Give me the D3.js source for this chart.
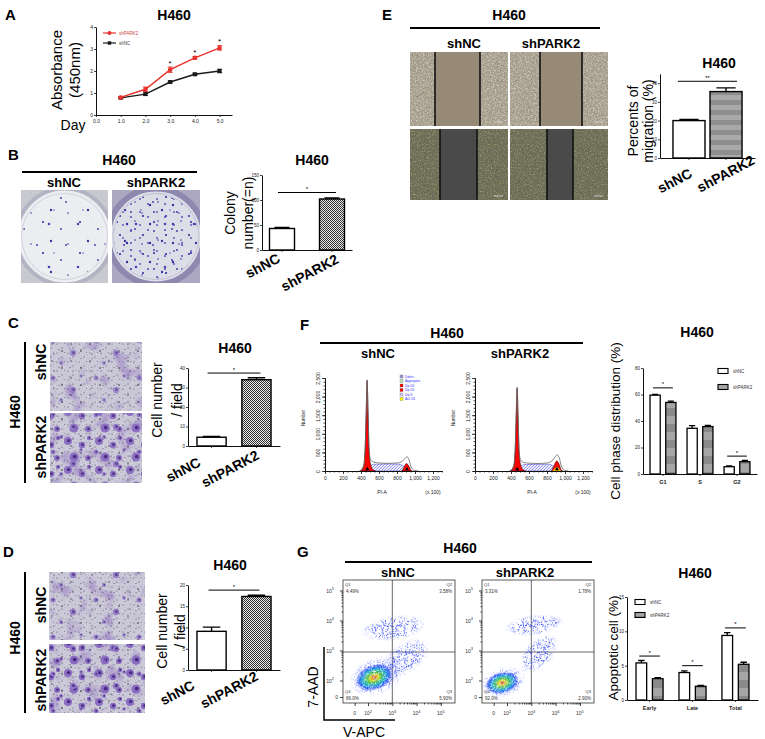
<!DOCTYPE html>
<html lang="en">
<head>
<meta charset="UTF-8">
<title>H460 shPARK2 panels</title>
<script src="https://cdn.jsdelivr.net/npm/d3@7"></script>
<style>
  body { margin: 0; background: #fff; }
  svg { display: block; }
</style>
</head>
<body>
<div id="fig"></div>
<script>
// ---- values ----
const days = [1, 2, 3, 4, 5];
const absPARK2 = [0.80, 1.17, 2.06, 2.60, 3.05];
const absPARK2Err = [0.04, 0.10, 0.12, 0.06, 0.10];
const absNC = [0.78, 0.95, 1.50, 1.85, 2.00];
const absNCErr = [0.03, 0.05, 0.04, 0.05, 0.08];
const absSigDays = [3, 4, 5];

const groups = ["shNC", "shPARK2"];
const colonyMean = [43, 102];
const colonyErr = [2, 2];
const invasionC = [4.5, 34];
const invasionCErr = [0.4, 1.0];
const invasionD = [9.1, 17.3];
const invasionDErr = [1.0, 0.3];
const migration = [20, 35.5];
const migrationErr = [0.6, 2.0];

const phases = ["G1", "S", "G2"];
const phaseNC = [59.5, 34.5, 5.5];
const phaseNCErr = [0.6, 2.0, 0.7];
const phasePARK2 = [54.0, 35.8, 9.3];
const phasePARK2Err = [1.0, 0.8, 0.9];

const apopCats = ["Early", "Late", "Total"];
const apopNC = [5.4, 4.0, 9.4];
const apopNCErr = [0.35, 0.25, 0.4];
const apopPARK2 = [3.1, 2.0, 5.2];
const apopPARK2Err = [0.15, 0.12, 0.3];

// quadrant percentages: Q1, Q2, Q3, Q4
const quadNC = ["4.49%", "3.58%", "5.90%", "86.0%"];
const quadPARK2 = ["3.31%", "1.78%", "2.90%", "92.0%"];

// cell cycle histograms: [PI-A (x100), count]
const histNCOutline = [[380,0],[425,60],[445,500],[458,1600],[468,2450],[478,1600],[490,600],[505,320],[540,240],[600,215],[700,205],[800,215],[860,260],[890,340],[910,380],[930,330],[955,120],[990,20],[1040,0]];
const histNCG1 = [[390,0],[430,150],[447,700],[458,1600],[468,2430],[478,1600],[490,550],[505,200],[530,40],[560,0]];
const histNCS = [[460,0],[500,120],[540,180],[700,190],[820,185],[880,120],[930,30],[960,0]];
const histNCG2 = [[855,0],[880,110],[905,200],[930,140],[955,20],[970,0]];
const histPKOutline = [[380,0],[425,50],[445,450],[458,1500],[468,2250],[478,1500],[490,560],[505,300],[540,230],[600,210],[700,200],[800,215],[860,280],[890,380],[912,430],[935,360],[960,130],[995,20],[1040,0]];
const histPKG1 = [[390,0],[430,140],[447,650],[458,1500],[468,2230],[478,1500],[490,520],[505,190],[530,40],[560,0]];
const histPKS = [[460,0],[500,110],[540,170],[700,180],[820,180],[880,120],[930,30],[960,0]];
const histPKG2 = [[850,0],[878,140],[908,270],[935,180],[958,30],[975,0]];
const histPKAn = [[860,0],[885,60],[908,110],[932,70],[955,0]];
const cyclePeaks = [470, 910];
const histLegend = ["Debris", "Aggregates", "Dip G1", "Dip G2", "Dip S", "An1 G1"];

// flow cytometry populations, in decades of V-APC (x) and 7-AAD (y)
const flowNC = [
  { x: 3.05, y: 3.75, rx: 1.35, ry: 0.42, rot: -8, kind: "sparse" },
  { x: 3.55, y: 2.75, rx: 1.10, ry: 0.50, rot: -35, kind: "sparse" },
  { x: 2.35, y: 2.15, rx: 1.15, ry: 0.62, rot: -20, kind: "sparse" },
  { x: 2.25, y: 2.10, rx: 0.80, ry: 0.42, rot: -20, kind: "core" }
];
const flowPARK2 = [
  { x: 3.10, y: 3.85, rx: 1.25, ry: 0.35, rot: -8, kind: "sparse" },
  { x: 3.30, y: 2.90, rx: 1.00, ry: 0.45, rot: -45, kind: "sparse" },
  { x: 1.85, y: 1.95, rx: 0.95, ry: 0.50, rot: -15, kind: "sparse" },
  { x: 1.80, y: 1.92, rx: 0.70, ry: 0.36, rot: -15, kind: "core" }
];
const flowTicks = [["0", 1.45], ["10", 2, "2"], ["10", 3, "3"], ["10", 4, "4"], ["10", 5, "5"]];

// ---- drawing ----
const FONT = "'Liberation Sans', Arial, sans-serif";
const svg = d3.select("#fig").append("svg")
  .attr("width", 765).attr("height", 739)
  .style("font-family", FONT);
const defs = svg.append("defs");

function label(g, str, x, y, o = {}) {
  const t = g.append("text")
    .attr("x", x).attr("y", y)
    .attr("font-size", o.size || 14)
    .attr("font-weight", o.bold ? "bold" : "normal")
    .attr("text-anchor", o.anchor || "middle")
    .attr("fill", o.fill || "#000")
    .text(str);
  if (o.dy) t.attr("dy", o.dy);
  if (o.rot != null) t.attr("transform", `rotate(${o.rot},${x},${y})`);
  return t;
}

function axisStyle(g, fs) {
  g.attr("font-family", FONT).attr("font-size", fs);
  g.select(".domain").attr("stroke", "#111").attr("stroke-width", 1);
  g.selectAll(".tick line").attr("stroke", "#111").attr("stroke-width", 0.8);
  g.selectAll(".tick text").attr("fill", "#222");
}

// bar fill patterns
const chk = defs.append("pattern").attr("id", "checker")
  .attr("width", 2).attr("height", 2).attr("patternUnits", "userSpaceOnUse");
chk.append("rect").attr("width", 2).attr("height", 2).attr("fill", "#e8e8e8");
chk.append("rect").attr("width", 1).attr("height", 1).attr("fill", "#333");
chk.append("rect").attr("x", 1).attr("y", 1).attr("width", 1).attr("height", 1).attr("fill", "#333");

const stripe = defs.append("pattern").attr("id", "stripes")
  .attr("width", 4).attr("height", 10).attr("patternUnits", "userSpaceOnUse");
stripe.append("rect").attr("width", 4).attr("height", 10).attr("fill", "#a9a9a9");
stripe.append("rect").attr("width", 4).attr("height", 5).attr("fill", "#8e8e8e");

const bands = defs.append("pattern").attr("id", "bands")
  .attr("width", 4).attr("height", 16).attr("patternUnits", "userSpaceOnUse");
bands.append("rect").attr("width", 4).attr("height", 16).attr("fill", "#a6a6a6");
bands.append("rect").attr("y", 8).attr("width", 4).attr("height", 8).attr("fill", "#8a8a8a");

const hatch = defs.append("pattern").attr("id", "hatch")
  .attr("width", 3).attr("height", 3).attr("patternUnits", "userSpaceOnUse");
hatch.append("rect").attr("width", 3).attr("height", 3).attr("fill", "#eef0ff");
hatch.append("path").attr("d", "M0,3L3,0M-1,1L1,-1M2,4L4,2").attr("stroke", "#5a5ad8").attr("stroke-width", 0.6);

// photo textures: dot tiles with co-prime sizes so the repeats do not line up
function dotTile(id, w, h, dots, fill, core) {
  const p = defs.append("pattern").attr("id", id)
    .attr("width", w).attr("height", h).attr("patternUnits", "userSpaceOnUse");
  dots.forEach(([x, y, r]) => {
    p.append("circle").attr("cx", x).attr("cy", y).attr("r", r).attr("fill", fill);
    if (core) p.append("circle").attr("cx", x + r * 0.15).attr("cy", y - r * 0.1).attr("r", r * 0.42).attr("fill", core);
  });
}
dotTile("colA", 37, 31, [[6, 5, 1.1], [24, 12, 0.9], [14, 24, 1.2], [31, 27, 0.8]], "#3636a4");
dotTile("colD", 29, 43, [[8, 30, 1.0], [20, 9, 1.3], [25, 38, 0.7]], "#4646b8");
dotTile("colB", 23, 19, [[5, 7, 1.1], [16, 3, 0.9], [12, 15, 1.2], [20, 12, 0.8]], "#3232a0");
dotTile("colC", 17, 13, [[4, 4, 0.9], [12, 9, 1.0]], "#5050b8");
dotTile("pores", 11, 9, [[2, 2, 0.55], [7, 6, 0.6], [9.5, 1.5, 0.45], [4, 7.5, 0.5]], "#2e2840");
dotTile("pores2", 19, 17, [[5, 11, 0.8], [14, 4, 0.7], [16, 14, 0.6]], "#221c30");
dotTile("cellsA", 43, 37, [[10, 8, 2.5], [30, 20, 3.2], [18, 30, 2.0], [38, 6, 1.8]], "#9276c6", "#4b2f86");
dotTile("cellsB", 31, 29, [[6, 6, 4.0], [20, 10, 3.2], [12, 22, 4.5], [26, 23, 3.0], [27, 3, 2.2]], "#8a6cc2", "#46287e");

function speckle(id, o) {
  const f = defs.append("filter").attr("id", id)
    .attr("x", 0).attr("y", 0).attr("width", 1).attr("height", 1)
    .attr("color-interpolation-filters", "sRGB");
  f.append("feTurbulence").attr("type", "fractalNoise")
    .attr("baseFrequency", o.freq).attr("numOctaves", o.oct || 1).attr("seed", o.seed).attr("result", "n");
  const [r, g, b] = o.color;
  f.append("feColorMatrix").attr("in", "n").attr("type", "matrix")
    .attr("values", `0 0 0 0 ${r} 0 0 0 0 ${g} 0 0 0 0 ${b} ${o.gain} 0 0 0 ${o.bias}`).attr("result", "c");
  f.append("feComposite").attr("in", "c").attr("in2", "SourceAlpha").attr("operator", "in");
}
speckle("grainW", { freq: 0.9, oct: 2, seed: 2, color: [1, 1, 1], gain: 2.4, bias: -1.05 });
speckle("grainD", { freq: 0.8, oct: 2, seed: 7, color: [0.1, 0.1, 0.1], gain: -2.4, bias: 0.95 });
speckle("haze", { freq: 0.06, oct: 2, seed: 4, color: [0.55, 0.42, 0.75], gain: 3, bias: -1.6 });
speckle("grainY", { freq: 0.7, oct: 2, seed: 5, color: [0.76, 0.76, 0.46], gain: 2.2, bias: -1.12 });
speckle("grainL", { freq: 0.6, oct: 2, seed: 8, color: [0.85, 0.83, 0.78], gain: 2.4, bias: -1.1 });

function flowMask(id, seed, gain, bias) {
  const f = defs.append("filter").attr("id", id)
    .attr("x", "-10%").attr("y", "-10%").attr("width", "120%").attr("height", "120%")
    .attr("color-interpolation-filters", "sRGB");
  f.append("feTurbulence").attr("type", "fractalNoise").attr("baseFrequency", 1.1)
    .attr("numOctaves", 1).attr("seed", seed).attr("result", "n");
  f.append("feColorMatrix").attr("in", "n").attr("type", "matrix")
    .attr("values", `0 0 0 0 0 0 0 0 0 0 0 0 0 0 0 ${gain} 0 0 0 ${bias}`).attr("result", "m");
  f.append("feComposite").attr("in", "SourceGraphic").attr("in2", "m").attr("operator", "in");
}
flowMask("flowSparse", 3, 9, -4.9);
flowMask("flowCore", 6, 6, -2.0);

const gCore = defs.append("radialGradient").attr("id", "gCore");
[["0%", "#e03018", 1], ["10%", "#f09020", 1], ["22%", "#e8e020", 1], ["40%", "#40c050", 1],
 ["62%", "#20b0d0", 1], ["82%", "#2050f0", 0.9], ["100%", "#2040ff", 0]]
  .forEach(s => gCore.append("stop").attr("offset", s[0]).attr("stop-color", s[1]).attr("stop-opacity", s[2]));
const gSparse = defs.append("radialGradient").attr("id", "gSparse");
[["0%", "#1a30ff", 1], ["65%", "#2a42ff", 0.9], ["100%", "#3a55ff", 0]]
  .forEach(s => gSparse.append("stop").attr("offset", s[0]).attr("stop-color", s[1]).attr("stop-opacity", s[2]));

let clipN = 0;
function clipped(x, y, w, h) {
  const id = "clip" + (clipN++);
  defs.append("clipPath").attr("id", id).append("rect")
    .attr("x", x).attr("y", y).attr("width", w).attr("height", h);
  return svg.append("g").attr("clip-path", `url(#${id})`);
}
function layer(g, x, y, w, h, fill, op = 1) {
  return g.append("rect").attr("x", x).attr("y", y).attr("width", w).attr("height", h)
    .attr("fill", fill).attr("opacity", op);
}

// panel letters
[["A", 5, 20], ["B", 8, 160], ["C", 8, 328], ["D", 3, 557], ["E", 382, 20], ["F", 300, 330], ["G", 297, 557]]
  .forEach(([t, x, y]) => label(svg, t, x, y, { size: 15, bold: true, anchor: "start" }));

// ===== A: growth curve =====
const ax = d3.scaleLinear().domain([0, 5.5]).range([96, 232]);
const ay = d3.scaleLinear().domain([0, 4]).range([115, 27]);
const gA = svg.append("g");
gA.append("g").attr("transform", "translate(96,0)")
  .call(d3.axisLeft(ay).ticks(4).tickSize(2).tickSizeOuter(0).tickPadding(1)).call(axisStyle, 5);
gA.append("g").attr("transform", "translate(0,115)")
  .call(d3.axisBottom(ax).tickValues(d3.range(0, 6)).tickSize(2).tickSizeOuter(0).tickPadding(2)).call(axisStyle, 5);
label(gA, "H460", 174, 20, { bold: true });
label(gA, "Absorbance", 57, 70, { rot: -90, dy: "0.35em", size: 15 });
label(gA, "(450nm)", 75, 70, { rot: -90, dy: "0.35em", size: 15 });
label(gA, "Day", 73, 130, { size: 14 });

const seriesA = [
  { name: "shNC", vals: absNC, err: absNCErr, color: "#1a1a1a", sym: d3.symbolSquare, ly: 43 },
  { name: "shPARK2", vals: absPARK2, err: absPARK2Err, color: "#e8312c", sym: d3.symbolCircle, ly: 33 }
];
const lineA = d3.line().x((d, i) => ax(days[i])).y(d => ay(d));
seriesA.forEach(s => {
  gA.append("path").datum(s.vals).attr("d", lineA).attr("fill", "none").attr("stroke", s.color).attr("stroke-width", 1.4);
  s.vals.forEach((v, i) => {
    const cx = ax(days[i]), t = ay(v + s.err[i]), b = ay(v - s.err[i]);
    gA.append("path").attr("d", `M${cx},${b}V${t}M${cx - 2.5},${t}H${cx + 2.5}M${cx - 2.5},${b}H${cx + 2.5}`)
      .attr("stroke", s.color).attr("stroke-width", 1);
    gA.append("path").attr("d", d3.symbol(s.sym, 16)()).attr("transform", `translate(${cx},${ay(v)})`).attr("fill", s.color);
  });
  gA.append("line").attr("x1", 103).attr("x2", 116).attr("y1", s.ly).attr("y2", s.ly).attr("stroke", s.color).attr("stroke-width", 1.2);
  gA.append("path").attr("d", d3.symbol(s.sym, 12)()).attr("transform", `translate(109.5,${s.ly})`).attr("fill", s.color);
  label(gA, s.name, 119, s.ly + 1.6, { size: 4.5, anchor: "start", fill: s.name === "shPARK2" ? "#c44" : "#444" });
});
absSigDays.forEach(d => {
  const i = days.indexOf(d);
  label(gA, "*", ax(d), ay(absPARK2[i] + absPARK2Err[i]) - 1.5, { size: 8 });
});

// ===== simple two-bar chart =====
function simpleBar(o) {
  const g = svg.append("g");
  const x = d3.scaleBand().domain(groups).range(o.xr).paddingInner(o.pi).paddingOuter(o.po);
  const y = d3.scaleLinear().domain([0, o.max]).range([o.y0, o.yTop]);
  g.append("g").attr("transform", `translate(${o.xr[0]},0)`)
    .call(d3.axisLeft(y).tickValues(o.ticks).tickSize(2).tickSizeOuter(0).tickPadding(1)).call(axisStyle, 4.5);
  g.append("g").attr("transform", `translate(0,${o.y0})`)
    .call(d3.axisBottom(x).tickSize(2).tickSizeOuter(0).tickFormat("")).call(axisStyle, 4.5);
  const bw = x.bandwidth();
  g.selectAll("rect.bar").data(o.means).join("rect").attr("class", "bar")
    .attr("x", (d, i) => x(groups[i])).attr("y", d => y(d))
    .attr("width", bw).attr("height", d => o.y0 - y(d))
    .attr("fill", (d, i) => o.fills[i]).attr("stroke", "#000").attr("stroke-width", 1.4);
  g.selectAll("path.err").data(o.means).join("path").attr("class", "err")
    .attr("d", (d, i) => {
      const cx = x(groups[i]) + bw / 2, hw = bw * 0.3, t = y(d + o.errs[i]);
      return `M${cx},${y(d)}V${t}M${cx - hw},${t}H${cx + hw}`;
    })
    .attr("stroke", "#000").attr("stroke-width", 1.4).attr("fill", "none");
  const c0 = x(groups[0]) + bw / 2 - o.sigExt, c1 = x(groups[1]) + bw / 2 + o.sigExt;
  g.append("line").attr("x1", c0).attr("x2", c1).attr("y1", y(o.sigAt)).attr("y2", y(o.sigAt))
    .attr("stroke", "#000").attr("stroke-width", 1);
  label(g, o.star, (c0 + c1) / 2, y(o.sigAt) - 1.5, { size: 6 });
  groups.forEach((c, i) => {
    const lx = x(c) + bw / 2 + o.lab[i][0], ly = o.y0 + o.lab[i][1];
    label(g, c, lx, ly, { bold: true, size: 14, rot: -28 });
  });
  label(g, o.title[0], o.title[1], o.title[2], { bold: true });
  o.ylab.forEach(([t, lx, ly]) => label(g, t, lx, ly, { rot: -90, dy: "0.35em", size: 14 }));
  return g;
}

// ===== B: colony formation =====
function platePhoto(x, y, w, h, o) {
  const g = clipped(x, y, w, h);
  layer(g, x, y, w, h, o.bg);
  const cx = x + w / 2, cy = y + h / 2;
  g.append("circle").attr("cx", cx).attr("cy", cy).attr("r", 48).attr("fill", o.inner).attr("stroke", o.rim).attr("stroke-width", o.rimW);
  g.append("circle").attr("cx", cx).attr("cy", cy).attr("r", 43).attr("fill", "none").attr("stroke", o.ring).attr("stroke-width", 1);
  o.dots.forEach(p => g.append("circle").attr("cx", cx).attr("cy", cy).attr("r", 42).attr("fill", `url(#${p})`));
  layer(g, x, y, w, h, "#000", 0.12).attr("filter", "url(#grainD)");
}
label(svg, "H460", 119, 165, { bold: true });
svg.append("line").attr("x1", 22).attr("x2", 197).attr("y1", 172).attr("y2", 172).attr("stroke", "#000").attr("stroke-width", 2);
label(svg, "shNC", 64, 187, { bold: true, size: 13 });
label(svg, "shPARK2", 156, 187, { bold: true, size: 13 });
platePhoto(21, 190, 87, 93, { bg: "#c9c9d0", inner: "#eceef1", rim: "#b4b4c4", rimW: 4, ring: "#d2d3dc", dots: ["colA", "colD"] });
platePhoto(112, 190, 88, 93, { bg: "#aca8c2", inner: "#dedee8", rim: "#8f89b0", rimW: 6, ring: "#c4c2d6", dots: ["colA", "colB", "colC", "colD"] });

simpleBar({
  xr: [262, 352], pi: 0.5, po: 0.15, y0: 250, yTop: 175, max: 150, ticks: [0, 50, 100, 150],
  means: colonyMean, errs: colonyErr, fills: ["#fff", "url(#checker)"],
  sigAt: 115, sigExt: 4, star: "*", lab: [[-17, 20], [-20, 27]],
  title: ["H460", 312, 165], ylab: [["Colony", 230, 213], ["number(=n)", 248, 213]]
});

// ===== C & D: invasion / transwell =====
function cellPhoto(x, y, w, h, cells) {
  const g = clipped(x, y, w, h);
  layer(g, x, y, w, h, "#c6c4d4");
  layer(g, x, y, w, h, "#fff", 0.35).attr("filter", "url(#grainW)");
  layer(g, x, y, w, h, "#000", 0.7).attr("filter", "url(#haze)");
  layer(g, x, y, w, h, "url(#pores)", 0.8);
  layer(g, x, y, w, h, "url(#pores2)", 0.9);
  cells.forEach(([p, op]) => layer(g, x, y, w, h, `url(#${p})`, op));
}
function transwell(top, bottom, yLine0, yLine1, yNC, yPK, yH, cellsTop, cellsBottom) {
  svg.append("line").attr("x1", 25).attr("x2", 25).attr("y1", yLine0).attr("y2", yLine1).attr("stroke", "#000").attr("stroke-width", 2);
  label(svg, "H460", 15, yH, { bold: true, rot: -90, dy: "0.35em" });
  label(svg, "shNC", 41, yNC, { bold: true, rot: -90, dy: "0.35em" });
  label(svg, "shPARK2", 41, yPK, { bold: true, rot: -90, dy: "0.35em" });
  cellPhoto(top[0], top[1], top[2], top[3], cellsTop);
  cellPhoto(bottom[0], bottom[1], bottom[2], bottom[3], cellsBottom);
}
transwell([50, 342, 92, 69], [50, 413, 92, 70], 342, 483, 362, 447, 412,
  [["cellsA", 0.75]], [["cellsB", 0.95], ["cellsA", 0.9]]);
transwell([49, 572, 96, 68], [49, 644, 96, 69], 572, 713, 605, 680, 638,
  [["cellsA", 0.9]], [["cellsB", 1], ["cellsA", 1]]);

simpleBar({
  xr: [188, 280], pi: 0.35, po: 0.2, y0: 446, yTop: 368, max: 40, ticks: [0, 10, 20, 30, 40],
  means: invasionC, errs: invasionCErr, fills: ["#fff", "url(#checker)"],
  sigAt: 37.4, sigExt: 4, star: "*", lab: [[-26, 28], [-24, 27]],
  title: ["H460", 235, 353], ylab: [["Cell number", 157, 400], ["/ field", 177, 400]]
});
simpleBar({
  xr: [188, 280], pi: 0.35, po: 0.2, y0: 670, yTop: 585, max: 20, ticks: [0, 5, 10, 15, 20],
  means: invasionD, errs: invasionDErr, fills: ["#fff", "url(#checker)"],
  sigAt: 18.8, sigExt: 3, star: "*", lab: [[-32, 27], [-25, 24]],
  title: ["H460", 230, 570], ylab: [["Cell number", 162, 631], ["/ field", 180, 631]]
});

// ===== E: wound healing =====
function woundPhoto(x, y, w, h, g0, g1, o) {
  const g = clipped(x, y, w, h);
  layer(g, x, y, w, h, o.bg);
  layer(g, x, y, w, h, "#fff", o.gOp).attr("filter", `url(#${o.grain})`);
  layer(g, x, y, w, h, "#000", 0.5).attr("filter", "url(#grainD)");
  g.append("rect").attr("x", g0).attr("y", y).attr("width", g1 - g0).attr("height", h).attr("fill", o.gap);
  [g0, g1].forEach(gx => g.append("line").attr("x1", gx).attr("x2", gx).attr("y1", y).attr("y2", y + h)
    .attr("stroke", "#111").attr("stroke-width", 1.6));
  g.append("line").attr("x1", x + w - 14).attr("x2", x + w - 5).attr("y1", y + h - 4).attr("y2", y + h - 4)
    .attr("stroke", "#ddd").attr("stroke-width", 0.8);
}
label(svg, "H460", 509, 20, { bold: true });
svg.append("line").attr("x1", 410).attr("x2", 600).attr("y1", 28).attr("y2", 28).attr("stroke", "#000").attr("stroke-width", 2);
label(svg, "shNC", 464, 48, { bold: true, size: 13 });
label(svg, "shPARK2", 551, 48, { bold: true, size: 13 });
const topPhoto = { bg: "#a89f8e", grain: "grainL", gOp: 1, gap: "#978b77" };
const botPhoto = { bg: "#6f6e5a", grain: "grainY", gOp: 0.8, gap: "#4a4a4a" };
woundPhoto(410, 52, 98, 74, 435, 480, topPhoto);
woundPhoto(510, 52, 98, 74, 540, 582, topPhoto);
woundPhoto(410, 129, 98, 71, 440, 477, botPhoto);
woundPhoto(510, 129, 98, 71, 547, 573, botPhoto);

simpleBar({
  xr: [660, 755], pi: 0.135, po: 0.35, y0: 158, yTop: 73.8, max: 45, ticks: [0, 10, 20, 30, 40],
  means: migration, errs: migrationErr, fills: ["#fff", "url(#stripes)"],
  sigAt: 41, sigExt: 11, star: "**", lab: [[-12, 27], [2, 20]],
  title: ["H460", 719, 68], ylab: [["Percents of", 633, 121], ["migration (%)", 648, 121]]
});

// ===== grouped bar chart (F, G) =====
function groupedBar(o) {
  const g = svg.append("g");
  const x0 = d3.scaleBand().domain(o.cats).range(o.xr).paddingInner(o.pi).paddingOuter(o.po);
  const x1 = d3.scaleBand().domain(groups).range([0, x0.bandwidth()]).paddingInner(0.35);
  const y = d3.scaleLinear().domain([0, o.max]).range([o.y0, o.yTop]);
  g.append("g").attr("transform", `translate(${o.xr[0]},0)`)
    .call(d3.axisLeft(y).tickValues(o.ticks).tickSize(2).tickSizeOuter(0).tickPadding(1)).call(axisStyle, 4.5);
  const xa = g.append("g").attr("transform", `translate(0,${o.y0})`)
    .call(d3.axisBottom(x0).tickSize(2).tickSizeOuter(0).tickPadding(4)).call(axisStyle, 5.5);
  xa.selectAll(".tick text").attr("font-weight", "bold");
  const sets = [[o.nc, o.ncErr, "#fff"], [o.pk, o.pkErr, o.pkFill]];
  sets.forEach(([vals, errs, fill], s) => {
    const bw = x1.bandwidth();
    vals.forEach((v, i) => {
      const bx = x0(o.cats[i]) + x1(groups[s]), cx = bx + bw / 2, t = y(v + errs[i]);
      g.append("rect").attr("x", bx).attr("y", y(v)).attr("width", bw).attr("height", o.y0 - y(v))
        .attr("fill", fill).attr("stroke", "#000").attr("stroke-width", 1.3);
      g.append("path").attr("d", `M${cx},${y(v)}V${t}M${cx - bw * 0.3},${t}H${cx + bw * 0.3}`)
        .attr("stroke", "#000").attr("stroke-width", 1.3);
    });
  });
  o.sig.forEach(([cat, at]) => {
    const a = x0(cat) + x1.bandwidth() * 0.3, b = x0(cat) + x0.bandwidth() - x1.bandwidth() * 0.3;
    g.append("line").attr("x1", a).attr("x2", b).attr("y1", y(at)).attr("y2", y(at)).attr("stroke", "#000").attr("stroke-width", 1);
    label(g, "*", (a + b) / 2, y(at) - 1.5, { size: 6 });
  });
  groups.forEach((c, i) => {
    const ly = o.leg[1] + i * o.leg[2];
    g.append("rect").attr("x", o.leg[0]).attr("y", ly - 2.5).attr("width", 10).attr("height", 5)
      .attr("fill", i ? o.pkFill : "#fff").attr("stroke", "#000").attr("stroke-width", 1.1);
    label(g, c, o.leg[0] + 15, ly + 1.6, { size: 4.5, anchor: "start", fill: "#333" });
  });
  label(g, o.title[0], o.title[1], o.title[2], { bold: true });
  label(g, o.ylab[0], o.ylab[1], o.ylab[2], { rot: -90, dy: "0.35em", size: o.ylab[3] });
}

// ===== F: cell cycle =====
label(svg, "H460", 447, 338, { bold: true });
svg.append("line").attr("x1", 320).attr("x2", 583).attr("y1", 343).attr("y2", 343).attr("stroke", "#000").attr("stroke-width", 2);
label(svg, "shNC", 378, 358, { bold: true, size: 13 });
label(svg, "shPARK2", 520, 358, { bold: true, size: 13 });

function cycleHist(ox, h, showLegend) {
  const g = svg.append("g");
  const hx = d3.scaleLinear().domain([0, 1300]).range([ox, ox + 117]);
  const hy = d3.scaleLinear().domain([0, 2500]).range([471, 378]);
  const area = d3.area().x(d => hx(d[0])).y0(hy(0)).y1(d => hy(d[1])).curve(d3.curveMonotoneX);
  const line = d3.line().x(d => hx(d[0])).y(d => hy(d[1])).curve(d3.curveMonotoneX);
  g.append("path").datum(h.s).attr("d", area).attr("fill", "url(#hatch)").attr("stroke", "#4040c0").attr("stroke-width", 0.5);
  g.append("path").datum(h.g1).attr("d", area).attr("fill", "#ff0000").attr("stroke", "#400").attr("stroke-width", 0.6);
  g.append("path").datum(h.g2).attr("d", area).attr("fill", "#ff0000").attr("stroke", "#400").attr("stroke-width", 0.6);
  if (h.an) g.append("path").datum(h.an).attr("d", area).attr("fill", "#ffd000").attr("stroke", "#a60").attr("stroke-width", 0.4);
  g.append("path").datum(h.out).attr("d", line).attr("fill", "none").attr("stroke", "#666").attr("stroke-width", 0.8);
  cyclePeaks.forEach(p => g.append("path").attr("d", d3.symbol(d3.symbolTriangle, 7)())
    .attr("transform", `translate(${hx(p)},${hy(0) - 2})`).attr("fill", "#000"));
  g.append("g").attr("transform", `translate(${ox},0)`)
    .call(d3.axisLeft(hy).tickValues(d3.range(0, 2501, 100)).tickSize(1.5).tickSizeOuter(0).tickFormat("")).call(axisStyle, 5);
  const ya = g.append("g").attr("transform", `translate(${ox},0)`)
    .call(d3.axisLeft(hy).tickValues(d3.range(0, 2501, 500)).tickSize(3).tickSizeOuter(0)).call(axisStyle, 5);
  ya.selectAll(".tick text").attr("x", 0).attr("y", -5).attr("dy", 0).attr("text-anchor", "middle").attr("transform", "rotate(-90)");
  g.append("g").attr("transform", "translate(0,471)")
    .call(d3.axisBottom(hx).tickValues(d3.range(0, 1301, 50)).tickSize(1.5).tickSizeOuter(0).tickFormat("")).call(axisStyle, 5);
  g.append("g").attr("transform", "translate(0,471)")
    .call(d3.axisBottom(hx).tickValues(d3.range(0, 1201, 200)).tickSize(3).tickSizeOuter(0).tickPadding(2)).call(axisStyle, 5);
  label(g, "Number", ox - 22, 418, { size: 4.5, rot: -90, dy: "0.35em", fill: "#222" });
  label(g, "PI-A", ox + 57, 494, { size: 5, fill: "#222" });
  label(g, "(x 100)", ox + 108, 494, { size: 5, fill: "#222" });
  if (showLegend) {
    const legFill = ["#9a9ad8", "#b8ecb8", "#ff0000", "#ff0000", "url(#hatch)", "#ffff00"];
    histLegend.forEach((t, i) => {
      g.append("rect").attr("x", ox + 75).attr("y", 375 + i * 4.5).attr("width", 3).attr("height", 3)
        .attr("fill", legFill[i]).attr("stroke", "#555").attr("stroke-width", 0.3);
      label(g, t, ox + 80, 377.6 + i * 4.5, { size: 3, anchor: "start", fill: "#3030ff" });
    });
  }
}
cycleHist(325, { out: histNCOutline, g1: histNCG1, s: histNCS, g2: histNCG2 }, true);
cycleHist(475, { out: histPKOutline, g1: histPKG1, s: histPKS, g2: histPKG2, an: histPKAn }, false);

groupedBar({
  cats: phases, nc: phaseNC, ncErr: phaseNCErr, pk: phasePARK2, pkErr: phasePARK2Err, pkFill: "url(#bands)",
  xr: [643, 757], pi: 0.3, po: 0.19, y0: 474, yTop: 368, max: 80, ticks: [0, 20, 40, 60, 80],
  sig: [["G1", 65], ["G2", 13.5]], leg: [718, 371, 16],
  title: ["H460", 697, 337], ylab: ["Cell phase distribution (%)", 615, 421, 13.5]
});

// ===== G: apoptosis =====
label(svg, "H460", 460, 553, { bold: true });
svg.append("line").attr("x1", 345).attr("x2", 592).attr("y1", 562).attr("y2", 562).attr("stroke", "#000").attr("stroke-width", 2);
label(svg, "shNC", 398, 577, { bold: true, size: 13 });
label(svg, "shPARK2", 525, 577, { bold: true, size: 13 });

function flowPlot(ox, quads, clouds) {
  const oy = 580, w = 112, h = 123;
  const fx = d3.scaleLinear().domain([0.97, 5.58]).range([ox, ox + w]);
  const fy = d3.scaleLinear().domain([1.25, 5.35]).range([oy + h, oy]);
  const kx = w / 4.61, ky = h / 4.1;
  const g = svg.append("g");
  g.append("rect").attr("x", ox).attr("y", oy).attr("width", w).attr("height", h).attr("fill", "#fff");
  const cg = clipped(ox, oy, w, h);
  clouds.forEach(c => {
    cg.append("ellipse").attr("cx", fx(c.x)).attr("cy", fy(c.y)).attr("rx", c.rx * kx).attr("ry", c.ry * ky)
      .attr("transform", `rotate(${c.rot},${fx(c.x)},${fy(c.y)})`)
      .attr("fill", c.kind === "core" ? "url(#gCore)" : "url(#gSparse)")
      .attr("filter", c.kind === "core" ? "url(#flowCore)" : "url(#flowSparse)");
  });
  g.append("line").attr("x1", fx(3)).attr("x2", fx(3)).attr("y1", oy).attr("y2", oy + h).attr("stroke", "#444").attr("stroke-width", 0.8);
  g.append("line").attr("x1", ox).attr("x2", ox + w).attr("y1", fy(2.95)).attr("y2", fy(2.95)).attr("stroke", "#444").attr("stroke-width", 0.8);
  g.append("rect").attr("x", ox).attr("y", oy).attr("width", w).attr("height", h)
    .attr("fill", "none").attr("stroke", "#333").attr("stroke-width", 0.8);
  const q = [["Q1", ox + 2, oy + 6, "start"], ["Q2", ox + w - 3, oy + 6, "end"],
             ["Q3", ox + w - 3, oy + h - 10, "end"], ["Q4", ox + 2, oy + h - 10, "start"]];
  q.forEach(([t, x, y, a], i) => {
    label(g, t, x, y, { size: 4.2, anchor: a, fill: "#333" });
    label(g, quads[i], x + (a === "start" ? 1 : 0), y + 7, { size: 4.5, anchor: a, fill: "#333" });
  });
  const minor = [];
  [2, 3, 4].forEach(d => d3.range(2, 10).forEach(k => minor.push(d + Math.log10(k))));
  g.append("g").attr("transform", `translate(0,${oy + h})`)
    .call(d3.axisBottom(fx).tickValues(minor).tickSize(1.5).tickFormat("")).call(axisStyle, 5)
    .select(".domain").remove();
  g.append("g").attr("transform", `translate(0,${oy + h})`)
    .call(d3.axisBottom(fx).tickValues(flowTicks.map(t => t[1])).tickSize(3).tickFormat("")).call(axisStyle, 5)
    .select(".domain").remove();
  g.append("g").attr("transform", `translate(${ox},0)`)
    .call(d3.axisLeft(fy).tickValues(minor).tickSize(1.5).tickFormat("")).call(axisStyle, 5)
    .select(".domain").remove();
  g.append("g").attr("transform", `translate(${ox},0)`)
    .call(d3.axisLeft(fy).tickValues(flowTicks.map(t => t[1])).tickSize(3).tickFormat("")).call(axisStyle, 5)
    .select(".domain").remove();
  flowTicks.forEach(([base, v, exp]) => {
    const tb = label(g, base, fx(v), oy + h + 12, { size: 5, fill: "#333" });
    if (exp) tb.append("tspan").attr("dy", -2.5).attr("font-size", 4).text(exp);
    const tl = label(g, base, ox - 5, fy(v) + 2, { size: 5, anchor: "end", fill: "#333" });
    if (exp) { tl.attr("x", ox - 9); tl.append("tspan").attr("dy", -2.5).attr("font-size", 4).text(exp); }
  });
}
flowPlot(343, quadNC, flowNC);
flowPlot(482, quadPARK2, flowPARK2);

svg.append("path").attr("d", "M324,647V720H395").attr("fill", "none").attr("stroke", "#000").attr("stroke-width", 1.5);
label(svg, "7-AAD", 313, 687, { rot: -90, dy: "0.35em", size: 14 });
label(svg, "V-APC", 364, 737, { size: 14 });

groupedBar({
  cats: apopCats, nc: apopNC, ncErr: apopNCErr, pk: apopPARK2, pkErr: apopPARK2Err, pkFill: "url(#bands)",
  xr: [627, 758], pi: 0.37, po: 0.21, y0: 700, yTop: 597, max: 15, ticks: [0, 5, 10, 15],
  sig: [["Early", 6.4], ["Late", 5.0], ["Total", 10.5]], leg: [635, 602, 13],
  title: ["H460", 695, 578], ylab: ["Apoptotic cell (%)", 613, 648, 13.5]
});
</script>
</body>
</html>
